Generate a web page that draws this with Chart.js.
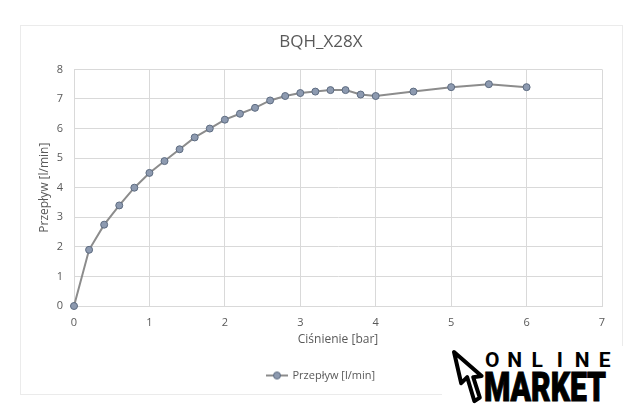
<!DOCTYPE html>
<html><head><meta charset="utf-8">
<script src="https://cdn.jsdelivr.net/npm/chart.js@4.4.1/dist/chart.umd.min.js"></script>
<style>
html,body{margin:0;padding:0;background:#fff;}
#wrap{position:relative;width:640px;height:415px;overflow:hidden;background:#fff;}
#frame{position:absolute;left:20px;top:25px;width:601px;height:368px;border:1px solid #ebebeb;box-sizing:content-box;}
#c{position:absolute;left:0;top:0;}
#logo{position:absolute;left:442px;top:346px;width:198px;height:69px;background:#fff;}
#logo svg{position:absolute;left:7px;top:1px;}
#online{position:absolute;left:39px;top:3px;display:flex;font:bold 21px Roboto, "DejaVu Sans", sans-serif;line-height:22px;color:#000;}
#online span{display:block;width:22.5px;text-align:center;}
#market{position:absolute;left:42px;top:22px;font:900 40px Roboto, "DejaVu Sans", sans-serif;line-height:40px;color:#000;white-space:nowrap;transform-origin:0 0;-webkit-text-stroke:1px #000;}
</style>
</head><body>
<div id="wrap">
  <div id="frame"></div>
  <canvas id="c" width="640" height="415"></canvas>
  <div id="logo">
    <svg width="40" height="62" viewBox="0 0 40 62"><path d="M5,5 L12.2,36.2 L18.2,30.2 L25.4,54.2 L30.8,50.6 L24.2,30.2 L32.6,29 Z" fill="#fff" stroke="#000" stroke-width="4" stroke-linejoin="round"/></svg>
    <div id="online"><span>O</span><span>N</span><span>L</span><span>I</span><span>N</span><span>E</span></div>
    <div id="market">MARKET</div>
  </div>
</div>
<script>
// ---- data ----
const chartTitle = "BQH_X28X";
const seriesName = "Przepływ [l/min]";
const xAxisTitle = "Ciśnienie [bar]";
const yAxisTitle = "Przepływ [l/min]";
const pressure = [0, 0.2, 0.4, 0.6, 0.8, 1.0, 1.2, 1.4, 1.6, 1.8, 2.0, 2.2, 2.4, 2.6, 2.8, 3.0, 3.2, 3.4, 3.6, 3.8, 4.0, 4.5, 5.0, 5.5, 6.0];
const flow     = [0, 1.9, 2.75, 3.4, 4.0, 4.5, 4.9, 5.3, 5.7, 6.0, 6.3, 6.5, 6.7, 6.95, 7.1, 7.2, 7.25, 7.3, 7.3, 7.15, 7.1, 7.25, 7.4, 7.5, 7.4];
const xTickLabels = ["0", "1", "2", "3", "4", "5", "6", "7"];
const yTickLabels = ["0", "1", "2", "3", "4", "5", "6", "7", "8"];

// fit MARKET width
(function(){
  const m = document.getElementById('market');
  const w = m.getBoundingClientRect().width;
  m.style.transform = 'scaleX(' + (122 / w) + ')';
})();

const textColor = '#595959';
const gridColor = '#d9d9d9';
const lineColor = '#8c8c8c';
const pointFill = '#8d9ab0';
const pointEdge = '#5d6b80';
const fontFam = '"Open Sans", "Liberation Sans", sans-serif';

// legend marker: line with a circle
const marker = document.createElement('canvas');
marker.width = 22; marker.height = 10;
(function(){
  const g = marker.getContext('2d');
  g.strokeStyle = lineColor; g.lineWidth = 2;
  g.beginPath(); g.moveTo(0,5); g.lineTo(22,5); g.stroke();
  g.beginPath(); g.arc(11,5,3.5,0,Math.PI*2);
  g.fillStyle = pointFill; g.fill();
  g.strokeStyle = pointEdge; g.lineWidth = 1; g.stroke();
})();

new Chart(document.getElementById('c'), {
  type: 'line',
  data: {
    datasets: [{
      label: seriesName,
      data: pressure.map((x, i) => ({x: x, y: flow[i]})),
      borderColor: lineColor,
      borderWidth: 2,
      pointBackgroundColor: pointFill,
      pointBorderColor: pointEdge,
      pointBorderWidth: 1,
      pointRadius: 3.5,
      tension: 0,
      fill: false,
      clip: false
    }]
  },
  options: {
    responsive: false,
    animation: false,
    devicePixelRatio: 1,
    layout: {padding: {left: 20, right: 18, top: 25, bottom: 24}},
    plugins: {
      title: {
        display: true, text: chartTitle, color: textColor,
        font: {family: fontFam, size: 17, weight: 'normal'},
        padding: {top: 7, bottom: 17}
      },
      legend: {
        position: 'bottom',
        labels: {
          usePointStyle: true, pointStyleWidth: 20, padding: 10,
          color: textColor, font: {family: fontFam, size: 11},
          generateLabels: (chart) => {
            const items = Chart.defaults.plugins.legend.labels.generateLabels(chart);
            items.forEach(it => { it.pointStyle = marker; });
            return items;
          }
        }
      },
      tooltip: {enabled: false}
    },
    scales: {
      x: {
        type: 'linear', min: 0, max: 7,
        ticks: {stepSize: 1, color: textColor, font: {family: fontFam, size: 11}, padding: 10,
                callback: (v) => xTickLabels[v]},
        grid: {color: gridColor, drawTicks: false},
        border: {color: gridColor},
        title: {display: true, text: xAxisTitle, color: textColor,
                font: {family: fontFam, size: 12}, padding: {top: 0, bottom: 13}},
        afterFit: (s) => { s.height = 54; }
      },
      y: {
        type: 'linear', min: 0, max: 8,
        ticks: {stepSize: 1, color: textColor, font: {family: fontFam, size: 11}, padding: 11,
                callback: (v) => yTickLabels[v]},
        grid: {color: gridColor, drawTicks: false},
        border: {color: gridColor},
        title: {display: true, text: yAxisTitle, color: textColor,
                font: {family: fontFam, size: 12}, padding: {top: 17, bottom: 0}},
        afterFit: (s) => { s.width = 54; }
      },
      yR: {
        position: 'right', display: true,
        grid: {display: false}, border: {display: false}, ticks: {display: false},
        afterFit: (s) => { s.width = 20; }
      }
    }
  }
});
</script>
</body></html>
